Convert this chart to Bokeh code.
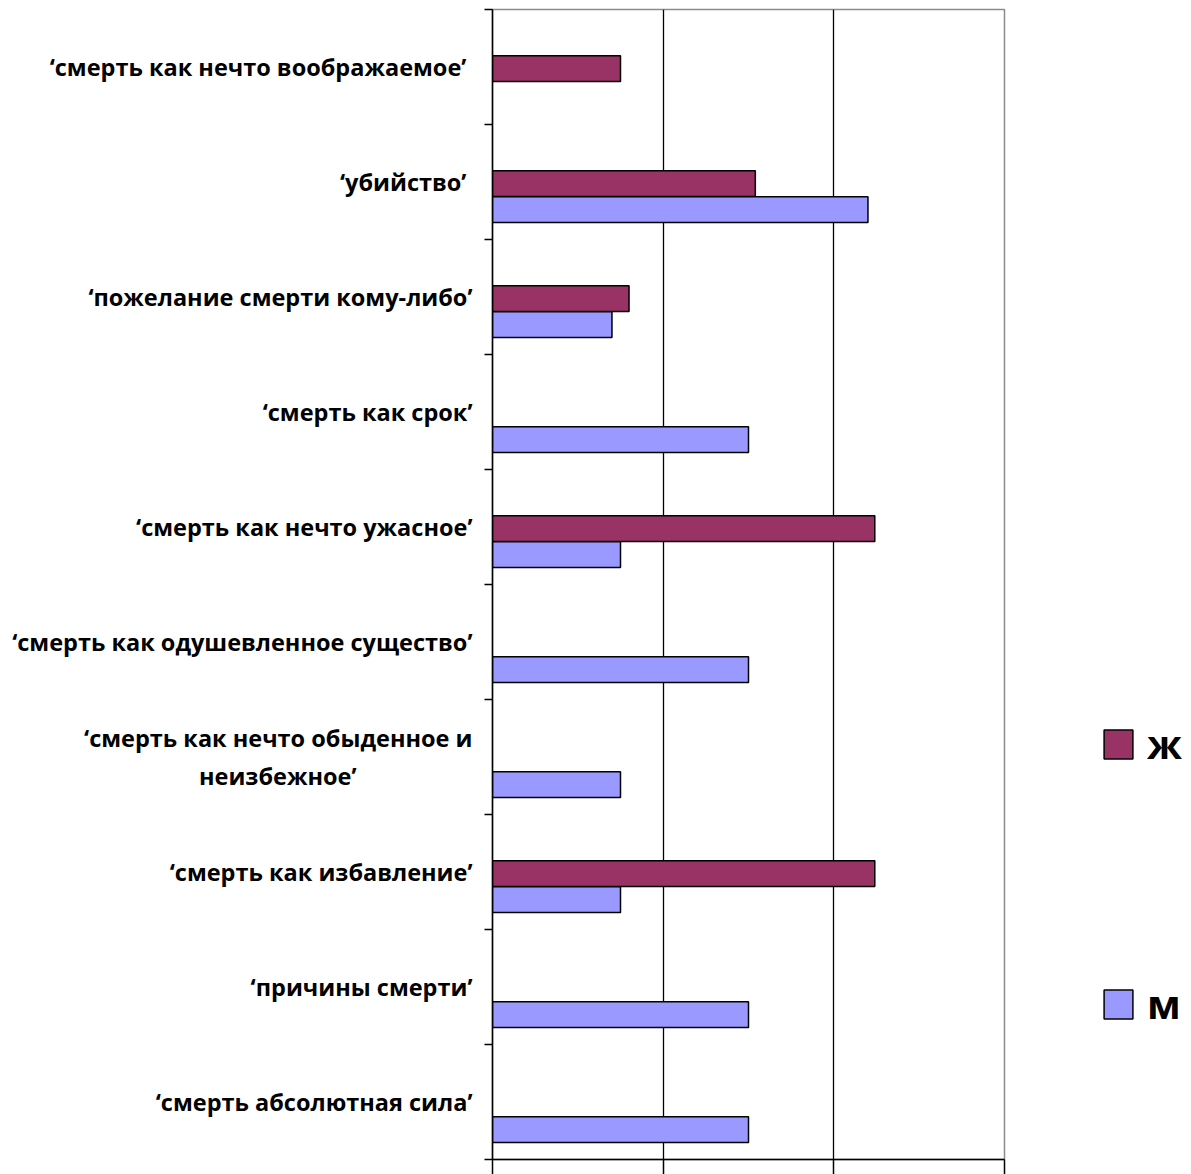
from bokeh.plotting import figure
from bokeh.models import FixedTicker, Legend, LegendItem, ColumnDataSource, Range1d
from bokeh.embed import file_html
from bokeh.resources import INLINE

NB = "\u00a0"
# categories listed from top to bottom
categories = [
    "‘смерть как нечто  воображаемое’",
    "‘убийство’ ",
    "‘пожелание смерти кому-либо’",
    "‘смерть как срок’",
    "‘смерть как нечто ужасное’",
    "‘смерть как одушевленное существо’",
    "‘смерть как нечто обыденное и\nнеизбежное’" + NB * 19,
    "‘смерть как избавление’",
    "‘причины смерти’",
    "‘смерть абсолютная сила’",
]
series_names = ["ж", "м"]
zh_values = [7.5, 15.4, 8.0, 0, 22.4, 0, 0, 22.4, 0, 0]
m_values = [0, 22.0, 7.0, 15.0, 7.5, 15.0, 7.5, 7.5, 15.0, 15.0]
x_ticks = [0, 10, 20, 30]

colors = {"ж": "#993366", "м": "#9999FF"}
offsets = {"ж": -0.015, "м": -0.24}
bar_h = 0.224

n = len(categories)
centers = [n - i - 0.5 for i in range(n)]

p = figure(frame_width=512, frame_height=1150, x_range=Range1d(0, 30), y_range=Range1d(0, n),
           output_backend="svg", toolbar_location=None,
           min_border_left=492, min_border_top=9, min_border_right=0, min_border_bottom=15)

renderers = {}
for name, vals in zip(series_names, [zh_values, m_values]):
    ys = [c + offsets[name] for c, v in zip(centers, vals) if v > 0]
    rs = [v for v in vals if v > 0]
    src = ColumnDataSource(dict(y=ys, right=rs))
    renderers[name] = p.hbar(y="y", right="right", left=0, height=bar_h, source=src,
                             fill_color=colors[name], line_color="black", line_width=1.5)

# y axis: labels at band centres, ticks at band boundaries
yax = p.yaxis[0]
yax.ticker = FixedTicker(ticks=centers, minor_ticks=list(range(0, n + 1)))
yax.major_label_overrides = {c: lab for c, lab in zip(centers, categories)}
yax.major_tick_line_color = None
yax.major_tick_out = 8
yax.major_tick_in = 0
yax.minor_tick_out = 8
yax.minor_tick_in = 0
yax.minor_tick_line_color = "black"
yax.minor_tick_line_width = 1.5
yax.axis_line_color = "black"
yax.axis_line_width = 1.5
yax.major_label_standoff = 12
yax.major_label_text_font = "Open Sans"
yax.major_label_text_font_style = "bold"
yax.major_label_text_font_size = "23.5px"
yax.major_label_text_line_height = 1.17
yax.major_label_text_color = "black"

# x axis: no labels, only outward ticks at gridline positions
xax = p.xaxis[0]
xax.ticker = FixedTicker(ticks=[], minor_ticks=x_ticks)
xax.minor_tick_out = 15
xax.minor_tick_in = 0
xax.minor_tick_line_color = "black"
xax.minor_tick_line_width = 1.5
xax.major_tick_out = 0
xax.major_label_standoff = 0
xax.axis_line_color = "black"
xax.axis_line_width = 1.5

p.ygrid.visible = False
p.xgrid.ticker = FixedTicker(ticks=x_ticks[1:-1])
p.xgrid.grid_line_color = "black"
p.xgrid.grid_line_width = 1.3

p.outline_line_color = "#8c8c8c"
p.outline_line_width = 1.5
p.background_fill_color = "white"
p.border_fill_color = "white"

legend = Legend(items=[LegendItem(label=s, renderers=[renderers[s]]) for s in series_names],
                location=(96, 128), orientation="vertical",
                glyph_width=36, glyph_height=36, label_height=36, label_width=20,
                label_standoff=11, spacing=205, padding=0, margin=0,
                border_line_color=None, background_fill_alpha=0,
                label_text_font="Open Sans", label_text_font_style="bold",
                label_text_font_size="40px", label_text_color="black")
p.add_layout(legend, "right")

open("out.html", "w").write(file_html(p, INLINE))
